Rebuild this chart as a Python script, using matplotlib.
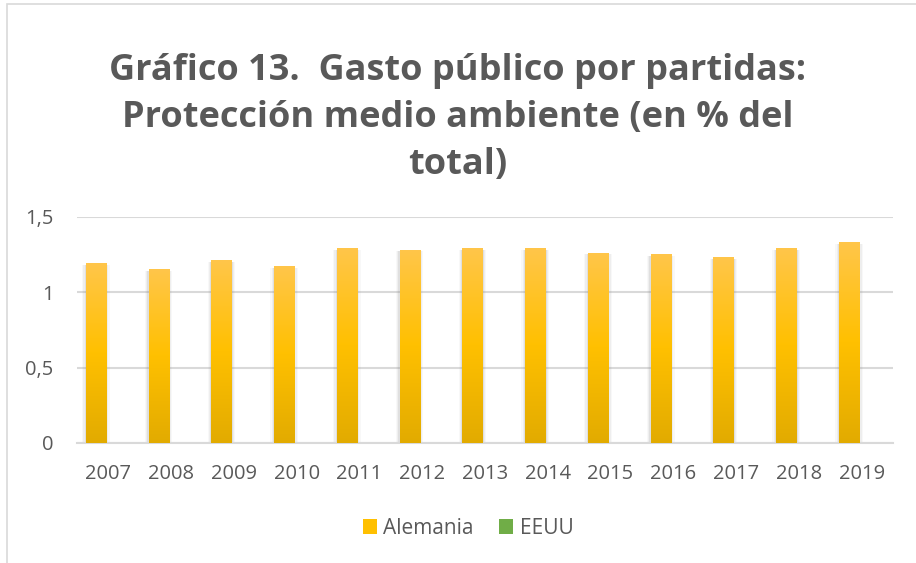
import numpy as np
import matplotlib
matplotlib.use("Agg")
from matplotlib import pyplot as plt
from matplotlib.patches import Rectangle
from matplotlib.colors import LinearSegmentedColormap

years = ["2007", "2008", "2009", "2010", "2011", "2012", "2013",
         "2014", "2015", "2016", "2017", "2018", "2019"]
alemania = [1.19, 1.15, 1.21, 1.17, 1.29, 1.28, 1.29, 1.29, 1.26, 1.25, 1.23, 1.29, 1.33]
eeuu = [0, 0, 0, 0, 0, 0, 0, 0, 0, 0, 0, 0, 0]
yticks = [0, 0.5, 1, 1.5]
ytick_labels = ["0", "0,5", "1", "1,5"]
title_lines = ["Gráfico 13.  Gasto público por partidas:",
               "Protección medio ambiente (en % del",
               "total)"]

plt.rcParams['font.family'] = ['Open Sans', 'DejaVu Sans']
gray_txt = '#595959'
grid_c = '#D9D9D9'

fig = plt.figure(figsize=(9.16, 5.63), dpi=100)
ax = fig.add_axes([77 / 916, 1 - 443 / 563, (893 - 77) / 916, (443 - 216.5) / 563])

x = np.arange(len(years))
w = 0.32
off = 0.2

gold = LinearSegmentedColormap.from_list('gold', ['#E2AB00', '#FFC000', '#FFC64A'])
green = LinearSegmentedColormap.from_list('green', ['#5E9C35', '#70AD47', '#86C05A'])
grad = np.linspace(0, 1, 256).reshape(-1, 1)


def draw_bars(xs, vals, cmap):
    for xi, v in zip(xs, vals):
        if v <= 0:
            continue
        # soft shadow
        for k, a in [(0.06, 0.05), (0.04, 0.08), (0.02, 0.13)]:
            ax.add_patch(Rectangle((xi - w / 2 - k, 0), w + 2 * k, v - 0.01,
                                   facecolor='#808080', edgecolor='none', alpha=a, zorder=2))
        r = Rectangle((xi - w / 2, 0), w, v, facecolor='none', edgecolor='none', zorder=3)
        ax.add_patch(r)
        im = ax.imshow(grad, cmap=cmap, aspect='auto', origin='lower',
                       extent=(xi - w / 2, xi + w / 2, 0, v), zorder=3)
        im.set_clip_path(r)


draw_bars(x - off, alemania, gold)
draw_bars(x + off, eeuu, green)

ax.set_xlim(-0.5, len(years) - 0.5)
ax.set_ylim(0, 1.5)
ax.set_yticks(yticks)
ax.set_yticklabels(ytick_labels)
ax.set_xticks(x)
ax.set_xticklabels(years)
ax.tick_params(axis='both', length=0, labelsize=14.5, colors=gray_txt)
ax.tick_params(axis='y', pad=17)
ax.tick_params(axis='x', pad=15)
ax.grid(axis='y', color=grid_c, linewidth=1.5, zorder=0)
ax.set_axisbelow(True)
for s in ['left', 'right', 'top']:
    ax.spines[s].set_visible(False)
ax.spines['bottom'].set_color(grid_c)
ax.spines['bottom'].set_linewidth(1.5)

for line, base in zip(title_lines, [80, 127, 174]):
    fig.text(0.5, 1 - base / 563, line, ha='center', va='baseline', fontsize=26,
             fontweight='bold', color=gray_txt)

handles = [Rectangle((0, 0), 1, 1, facecolor='#FFC000'),
           Rectangle((0, 0), 1, 1, facecolor='#70AD47')]
fig.legend(handles, ['Alemania', 'EEUU'], loc='center', bbox_to_anchor=(468 / 916, 1 - 528 / 563),
           ncol=2, frameon=False, fontsize=15, handlelength=0.7, handleheight=0.75,
           handletextpad=0.3, columnspacing=1.2, labelcolor=gray_txt)

fig.patches.append(Rectangle((7 / 916, -0.1), 1.2, 1.1 - 4 / 563, transform=fig.transFigure,
                             facecolor='none', edgecolor=grid_c, linewidth=1.2))

fig.savefig('out.png', dpi=100)
